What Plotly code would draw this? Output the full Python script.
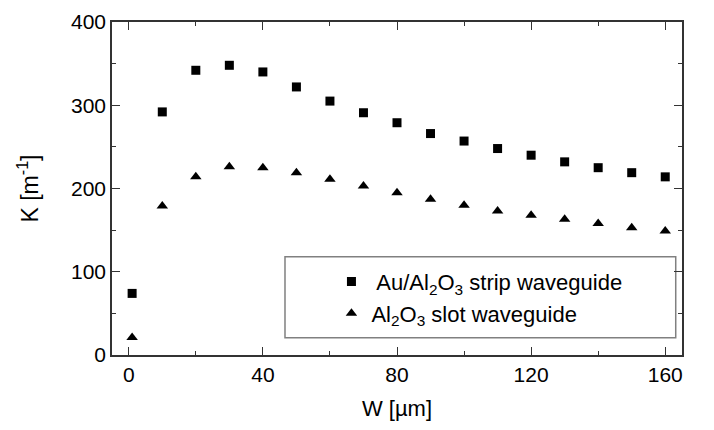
import plotly.graph_objects as go

W = [1, 10, 20, 30, 40, 50, 60, 70, 80, 90, 100, 110, 120, 130, 140, 150, 160]
K_strip = [74, 292, 342, 348, 340, 322, 305, 291, 279, 266, 257, 248, 240, 232, 225, 219, 214]
K_slot = [21, 179, 214, 226, 225, 219, 211, 203, 195, 187, 180, 173, 168, 163, 158, 153, 149]

name_strip = " Au/Al<sub>2</sub>O<sub>3</sub> strip waveguide"
name_slot = "Al<sub>2</sub>O<sub>3</sub> slot waveguide"

FONT = "Liberation Sans, Arial, sans-serif"

fig = go.Figure()
fig.add_trace(go.Scatter(x=W, y=K_strip, mode="markers", name=name_strip,
                         marker=dict(symbol="square", size=9, color="black")))
fig.add_trace(go.Scatter(x=W, y=K_slot, mode="markers", name=name_slot,
                         marker=dict(symbol="triangle-up", size=10, color="black")))

# legend frame
fig.add_shape(type="rect", xref="paper", yref="paper",
              x0=0.3035, x1=0.989, y0=0.052, y1=0.2948,
              line=dict(color="#808080", width=1.5), fillcolor="white", layer="below")

axis_common = dict(
    showgrid=False, zeroline=False, showline=True, linecolor="#333333", linewidth=1.5,
    mirror="ticks", ticks="inside", ticklen=8, tickwidth=1.2, tickcolor="#333333",
    tickfont=dict(size=21, color="black", family=FONT), ticklabeloverflow="allow",
)

fig.update_xaxes(range=[-5, 165], tickmode="array", tickvals=[0, 40, 80, 120, 160],
                 minor=dict(tickvals=[20, 60, 100, 140], ticks="inside", ticklen=4,
                            tickwidth=1.2, tickcolor="#333333"),
                 title=dict(text="W [µm]", font=dict(size=22, color="black", family=FONT), standoff=16),
                 **axis_common)
fig.update_yaxes(range=[0, 400], tickmode="array", tickvals=[0, 100, 200, 300, 400],
                 minor=dict(tickvals=[50, 150, 250, 350], ticks="inside", ticklen=4,
                            tickwidth=1.2, tickcolor="#333333"),
                 title=dict(text="K [m<sup>-1</sup>]", font=dict(size=23, color="black", family=FONT), standoff=26),
                 **axis_common)

fig.update_layout(
    width=714, height=430,
    margin=dict(l=112, r=32, t=10, b=75),
    paper_bgcolor="white", plot_bgcolor="white",
    font=dict(family=FONT, color="black", size=20),
    showlegend=True,
    legend=dict(x=0.385, y=0.283, xanchor="left", yanchor="top",
                bgcolor="rgba(0,0,0,0)", borderwidth=0,
                font=dict(size=22, color="black", family=FONT), tracegroupgap=4),
)

fig.write_html("out.html")
